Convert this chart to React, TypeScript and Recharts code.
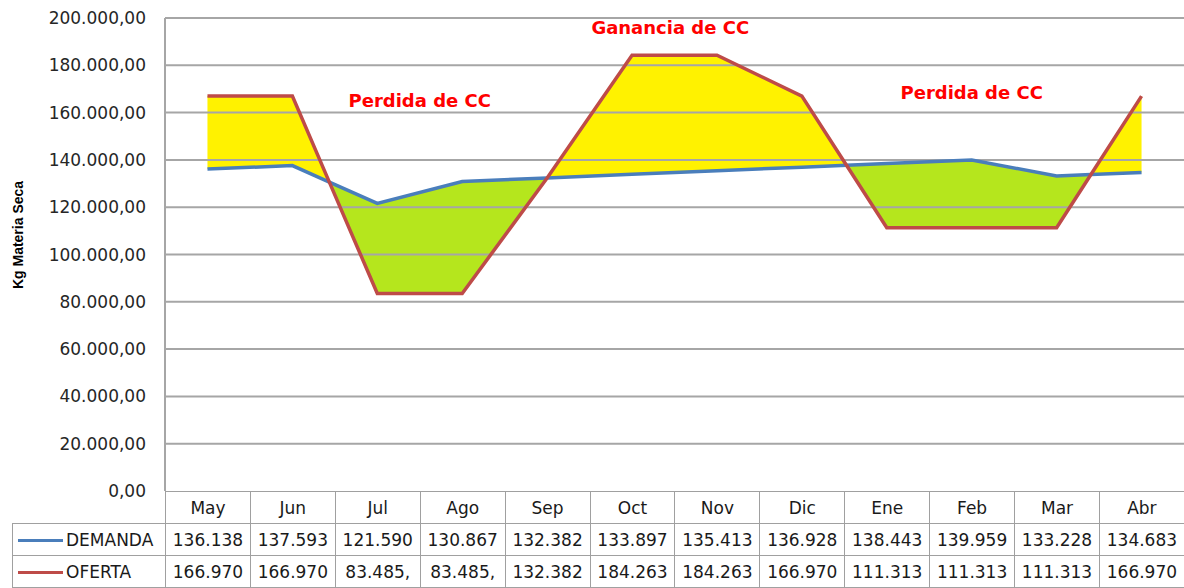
import React from 'react';
import { ComposedChart, Area, Line, XAxis, YAxis, ReferenceLine, ReferenceDot } from 'recharts';

const months = ['May', 'Jun', 'Jul', 'Ago', 'Sep', 'Oct', 'Nov', 'Dic', 'Ene', 'Feb', 'Mar', 'Abr'];
const demanda = [136138, 137593, 121590, 130867, 132382, 133897, 135413, 136928, 138443, 139959, 133228, 134683];
const oferta = [166970, 166970, 83485, 83485, 132382, 184263, 184263, 166970, 111313, 111313, 111313, 166970];
// as printed in the table cells (some are clipped in the original)
const demandaLabels = ['136.138', '137.593', '121.590', '130.867', '132.382', '133.897', '135.413', '136.928', '138.443', '139.959', '133.228', '134.683'];
const ofertaLabels = ['166.970', '166.970', '83.485,', '83.485,', '132.382', '184.263', '184.263', '166.970', '111.313', '111.313', '111.313', '166.970'];
const yTicks = [0, 20000, 40000, 60000, 80000, 100000, 120000, 140000, 160000, 180000, 200000];

const BLUE = '#4a7ebb';
const RED = '#be4b48';
const YELLOW = '#fff200';
const GREEN = '#b5e61d';
const GRID = '#a6a6a6';
const FONT = '"DejaVu Sans", sans-serif';

// rows at each month, plus the points where the two lines cross so the fills split cleanly
function buildRows() {
  const rows: { x: number; demanda: number; oferta: number }[] = [];
  for (let i = 0; i < months.length; i++) {
    rows.push({ x: i, demanda: demanda[i], oferta: oferta[i] });
    if (i < months.length - 1) {
      const d0 = oferta[i] - demanda[i];
      const d1 = oferta[i + 1] - demanda[i + 1];
      if (d0 * d1 < 0) {
        const t = d0 / (d0 - d1);
        const v = demanda[i] + t * (demanda[i + 1] - demanda[i]);
        rows.push({ x: i + t, demanda: v, oferta: v });
      }
    }
  }
  return rows;
}

const fmt = (v: number) => {
  const s = Math.round(v).toString().replace(/\B(?=(\d{3})+(?!\d))/g, '.');
  return s + ',00';
};

const PLOT_LEFT = 165;
const PLOT_RIGHT = 1184;
const colW = (PLOT_RIGHT - PLOT_LEFT) / months.length;

const cell: React.CSSProperties = {
  border: '1px solid #a0a0a0',
  textAlign: 'center',
  padding: 0,
  whiteSpace: 'nowrap',
  overflow: 'hidden',
};

export default function App() {
  const rows = buildRows();
  const note = { fill: '#ff0000', fontWeight: 700, fontSize: 18, fontFamily: FONT };

  return (
    <div style={{ position: 'absolute', left: 0, top: 0, width: 1184, height: 588, background: '#fff', fontFamily: FONT, color: '#1a1a1a' }}>
      <ComposedChart width={1184} height={512} data={rows} margin={{ top: 18, right: 0, bottom: 21, left: 0 }}>
        <XAxis type="number" dataKey="x" domain={[-0.5, 11.5]} hide />
        <YAxis
          width={165}
          domain={[0, 200000]}
          ticks={yTicks}
          interval={0}
          tickFormatter={fmt}
          tickLine={false}
          tickSize={0}
          tickMargin={19}
          axisLine={{ stroke: GRID, strokeWidth: 2 }}
          tick={{ fill: '#262626', fontSize: 17, fontFamily: FONT }}
        />
        <Area
          dataKey={(r: any) => [r.demanda, Math.max(r.oferta, r.demanda)]}
          type="linear"
          fill={YELLOW}
          fillOpacity={1}
          stroke="none"
          isAnimationActive={false}
        />
        <Area
          dataKey={(r: any) => [Math.min(r.oferta, r.demanda), r.demanda]}
          type="linear"
          fill={GREEN}
          fillOpacity={1}
          stroke="none"
          isAnimationActive={false}
        />
        {yTicks.slice(1).map((t) => (
          <ReferenceLine key={t} y={t} stroke={GRID} strokeWidth={2} />
        ))}
        <Line dataKey="demanda" type="linear" stroke={BLUE} strokeWidth={3.5} dot={false} isAnimationActive={false} />
        <Line dataKey="oferta" type="linear" stroke={RED} strokeWidth={3.5} dot={false} isAnimationActive={false} />
        <ReferenceDot x={2.5} y={165000} r={1} fill="none" stroke="none" label={{ value: 'Perdida de CC', position: 'center', ...note }} />
        <ReferenceDot x={5.45} y={196000} r={1} fill="none" stroke="none" label={{ value: 'Ganancia de CC', position: 'center', ...note }} />
        <ReferenceDot x={9} y={168300} r={1} fill="none" stroke="none" label={{ value: 'Perdida de CC', position: 'center', ...note }} />
      </ComposedChart>

      <div
        style={{
          position: 'absolute',
          left: 18,
          top: 235,
          transform: 'translate(-50%, -50%) rotate(-90deg)',
          fontFamily: '"Liberation Sans", Arial, sans-serif',
          fontWeight: 700,
          fontSize: 14,
          whiteSpace: 'nowrap',
          color: '#000',
        }}
      >
        Kg Materia Seca
      </div>

      <table
        style={{
          position: 'absolute',
          left: 12,
          top: 491,
          borderCollapse: 'collapse',
          tableLayout: 'fixed',
          width: PLOT_RIGHT - 12,
          fontSize: 17,
          fontFamily: FONT,
        }}
      >
        <colgroup>
          <col style={{ width: PLOT_LEFT - 12 }} />
          {months.map((m) => (
            <col key={m} style={{ width: colW }} />
          ))}
        </colgroup>
        <tbody>
          <tr style={{ height: 32 }}>
            <td style={{ border: 'none' }} />
            {months.map((m) => (
              <td key={m} style={{ ...cell, background: '#fff' }}>{m}</td>
            ))}
          </tr>
          {[
            { name: 'DEMANDA', color: BLUE, labels: demandaLabels },
            { name: 'OFERTA', color: RED, labels: ofertaLabels },
          ].map((s) => (
            <tr key={s.name} style={{ height: 32 }}>
              <td style={{ ...cell, textAlign: 'left', background: '#fff' }}>
                <span style={{ display: 'inline-block', width: 45, height: 3, background: s.color, verticalAlign: 'middle', marginLeft: 5, marginRight: 3 }} />
                <span style={{ verticalAlign: 'middle' }}>{s.name}</span>
              </td>
              {s.labels.map((v, i) => (
                <td key={i} style={{ ...cell, background: '#fff' }}>{v}</td>
              ))}
            </tr>
          ))}
        </tbody>
      </table>
    </div>
  );
}
